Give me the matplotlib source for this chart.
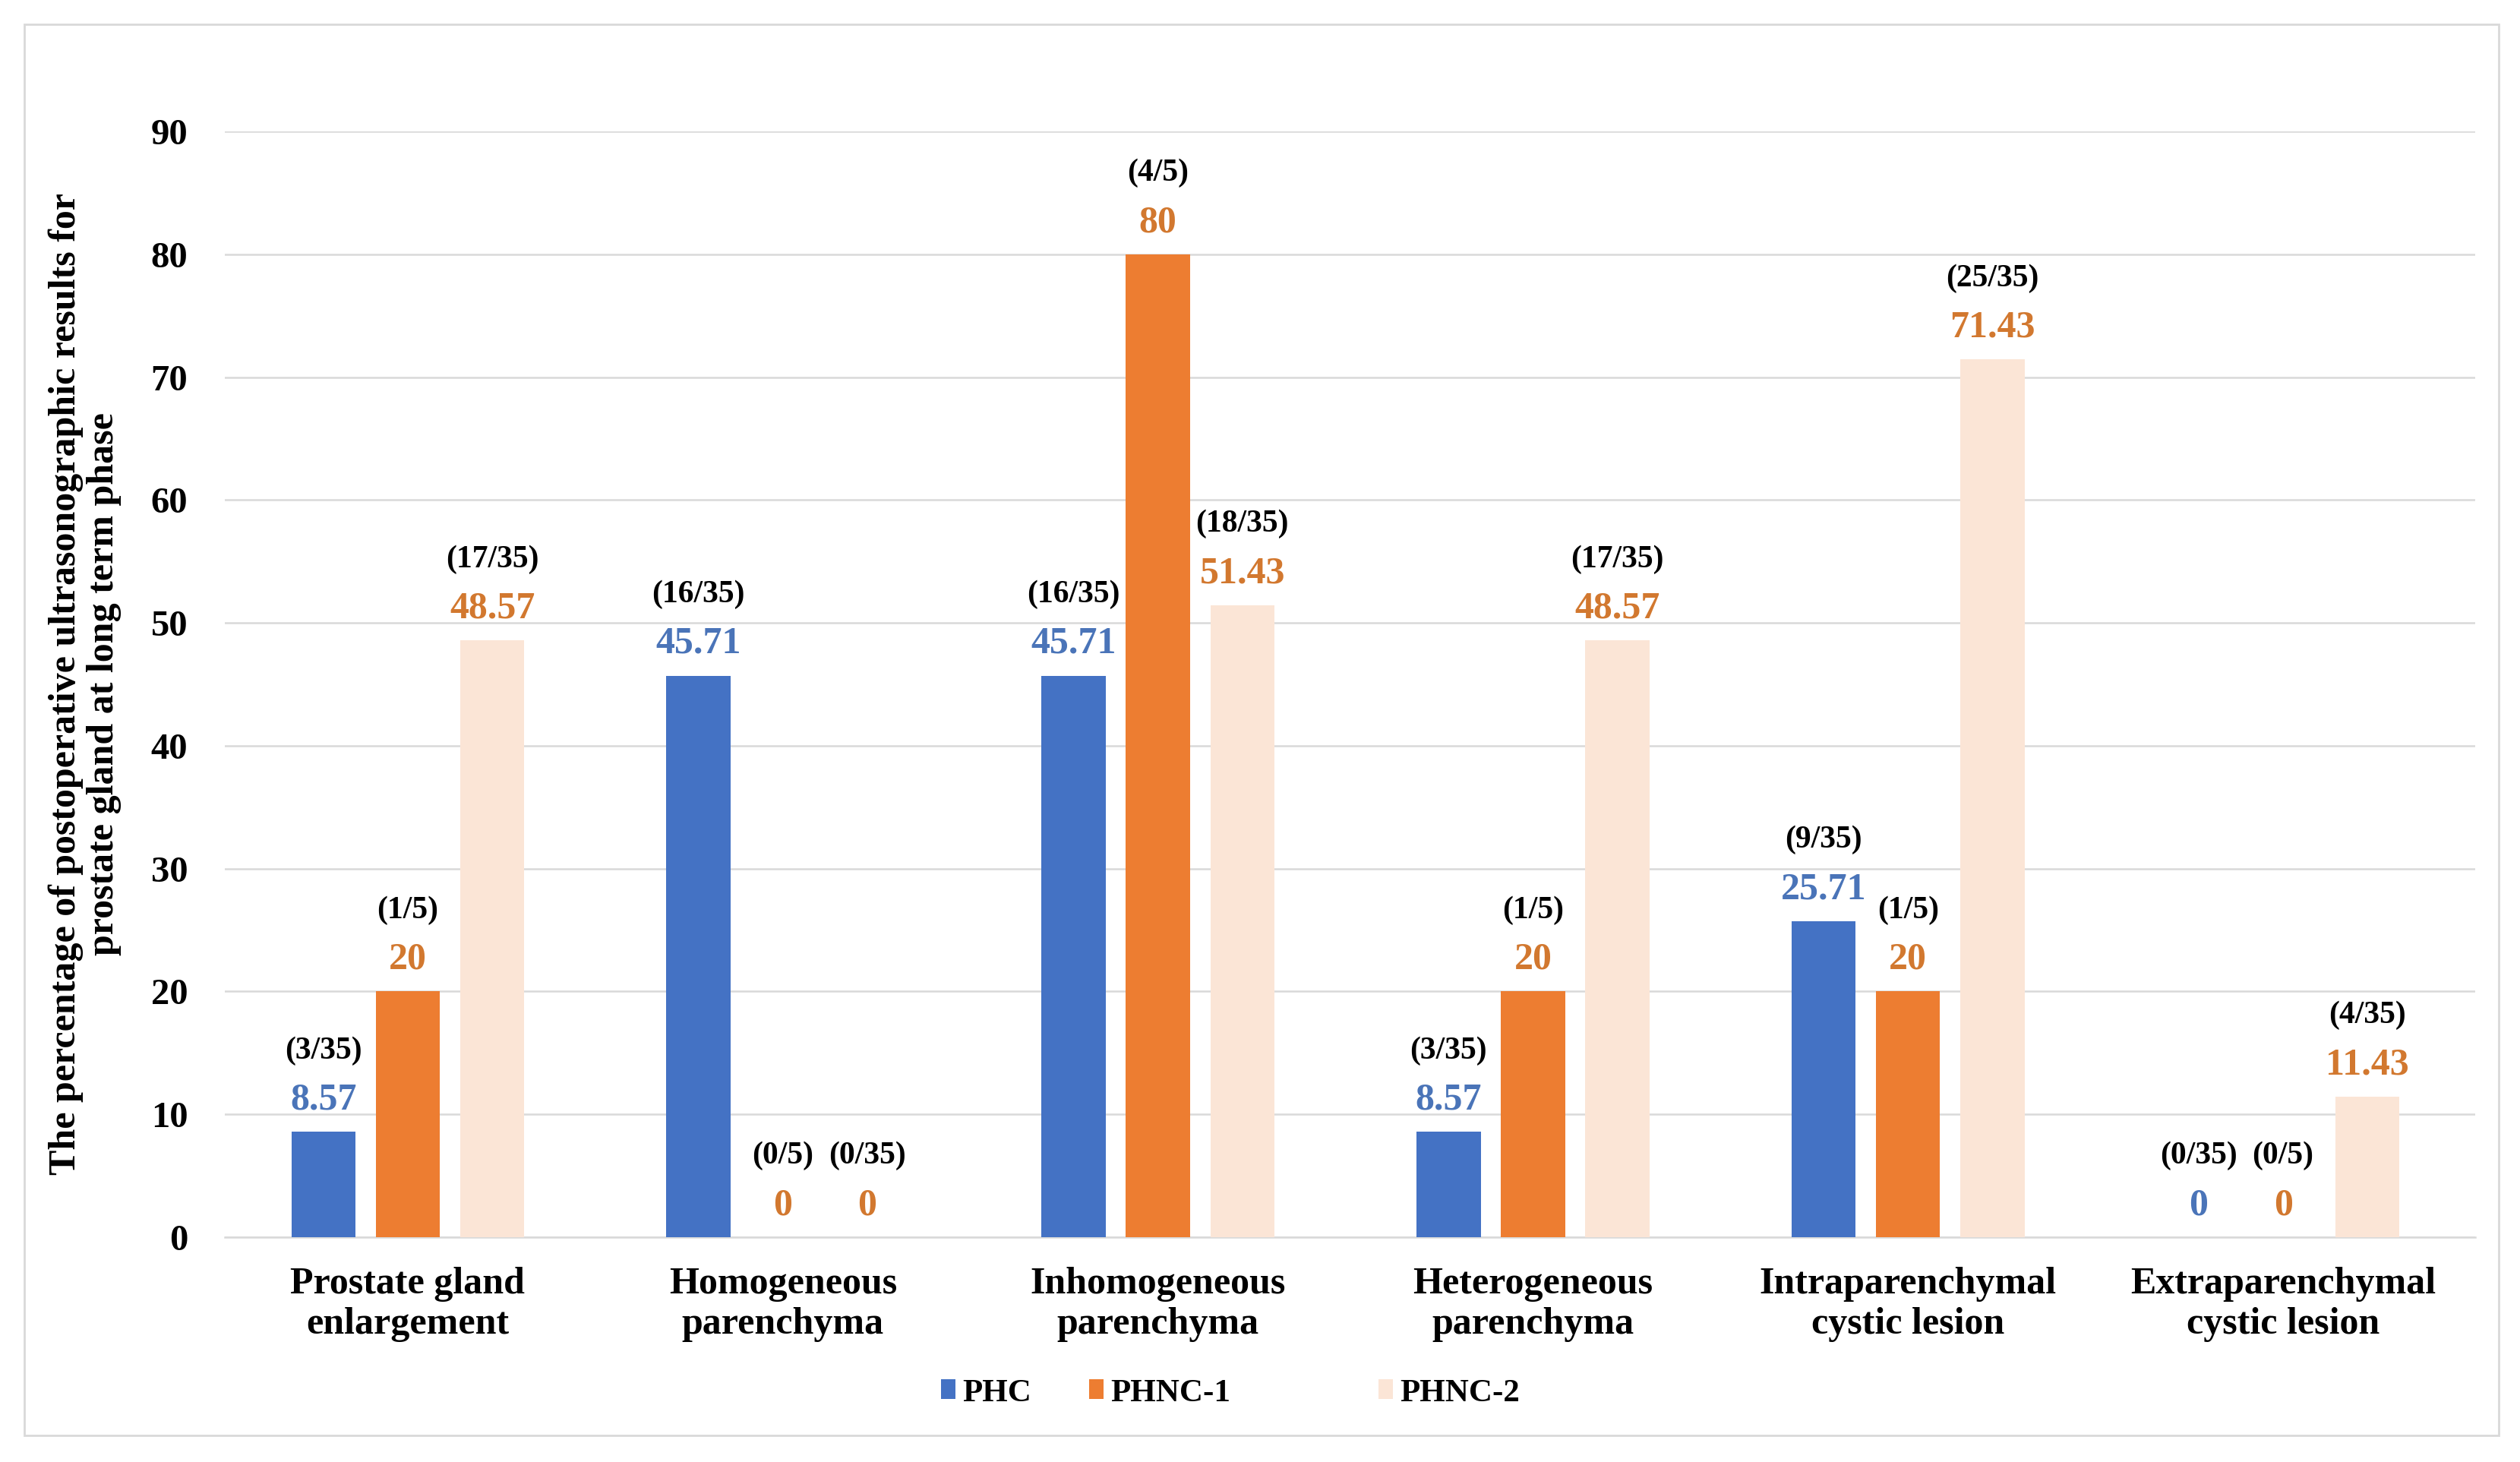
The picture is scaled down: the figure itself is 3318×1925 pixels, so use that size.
import matplotlib.pyplot as plt
import numpy as np
from matplotlib.patches import Patch, Rectangle

categories = ["Prostate gland\nenlargement", "Homogeneous\nparenchyma",
              "Inhomogeneous\nparenchyma", "Heterogeneous\nparenchyma",
              "Intraparenchymal\ncystic lesion", "Extraparenchymal\ncystic lesion"]
series_names = ["PHC", "PHNC-1", "PHNC-2"]
phc = [8.57, 45.71, 45.71, 8.57, 25.71, 0]
phnc1 = [20, 0, 80, 20, 20, 0]
phnc2 = [48.57, 0, 51.43, 48.57, 71.43, 11.43]
phc_counts = ["(3/35)", "(16/35)", "(16/35)", "(3/35)", "(9/35)", "(0/35)"]
phnc1_counts = ["(1/5)", "(0/5)", "(4/5)", "(1/5)", "(1/5)", "(0/5)"]
phnc2_counts = ["(17/35)", "(0/35)", "(18/35)", "(17/35)", "(25/35)", "(4/35)"]
yticks = [0, 10, 20, 30, 40, 50, 60, 70, 80, 90]

plt.rcParams['font.family'] = ['Liberation Serif', 'DejaVu Serif']
plt.rcParams['font.weight'] = 'bold'

bar_colors = ['#4472C4', '#ED7D31', '#FBE5D6']
text_colors = ['#4A74B8', '#D2782F', '#D2782F']
grid_color = '#D9D9D9'

fig = plt.figure(figsize=(33.18, 19.25), dpi=100)
ax = fig.add_axes([0.0892, 0.1538, 0.8930, 0.7563])

# outer frame around the whole chart
fig.patches.append(Rectangle((0.0096, 0.0182), 0.982, 0.965, transform=fig.transFigure,
                             fill=False, edgecolor=grid_color, linewidth=2))

x = np.arange(len(categories))
step = 0.225
width = 0.171
all_vals = [phc, phnc1, phnc2]
all_counts = [phc_counts, phnc1_counts, phnc2_counts]

for i, (vals, counts) in enumerate(zip(all_vals, all_counts)):
    pos = x + (i - 1) * step
    ax.bar(pos, vals, width, color=bar_colors[i], zorder=3)
    for px, v, c in zip(pos, vals, counts):
        ax.annotate(f"{v:g}", (px, v), xytext=(0, 30), textcoords='offset points',
                    ha='center', va='center', fontsize=36, fontweight='bold',
                    color=text_colors[i])
        ax.annotate(c, (px, v), xytext=(0, 77), textcoords='offset points',
                    ha='center', va='center', fontsize=30, fontweight='bold',
                    color='black')

ax.set_xlim(-0.488, 5.512)
ax.set_ylim(0, 90)
ax.set_yticks(yticks)
ax.set_xticks(x)
ax.set_xticklabels(categories, fontsize=36, fontweight='bold', linespacing=1.2)
ax.tick_params(axis='y', labelsize=35, length=0, pad=35)
ax.tick_params(axis='x', length=0, pad=28)
ax.grid(axis='y', color=grid_color, linewidth=1.8, zorder=0)
for side in ['top', 'right', 'left']:
    ax.spines[side].set_visible(False)
ax.spines['bottom'].set_color(grid_color)
ax.spines['bottom'].set_linewidth(1.8)

ax.set_ylabel("The percentage of postoperative ultrasonographic results for\n"
              "prostate gland at long term phase",
              fontsize=36, fontweight='bold', linespacing=1.1)
ax.yaxis.set_label_coords(-0.046, 0.5)

# legend entries placed like the original (uneven spacing)
legend_x = [0.3734, 0.4322, 0.5470]
for name, col, lx in zip(series_names, bar_colors, legend_x):
    fig.legend(handles=[Patch(facecolor=col, label=name)], loc='center left',
               bbox_to_anchor=(lx, 0.047), frameon=False, fontsize=31,
               handlelength=0.45, handleheight=0.55, handletextpad=0.2,
               borderpad=0, borderaxespad=0)

fig.savefig("out.png", dpi=100)
